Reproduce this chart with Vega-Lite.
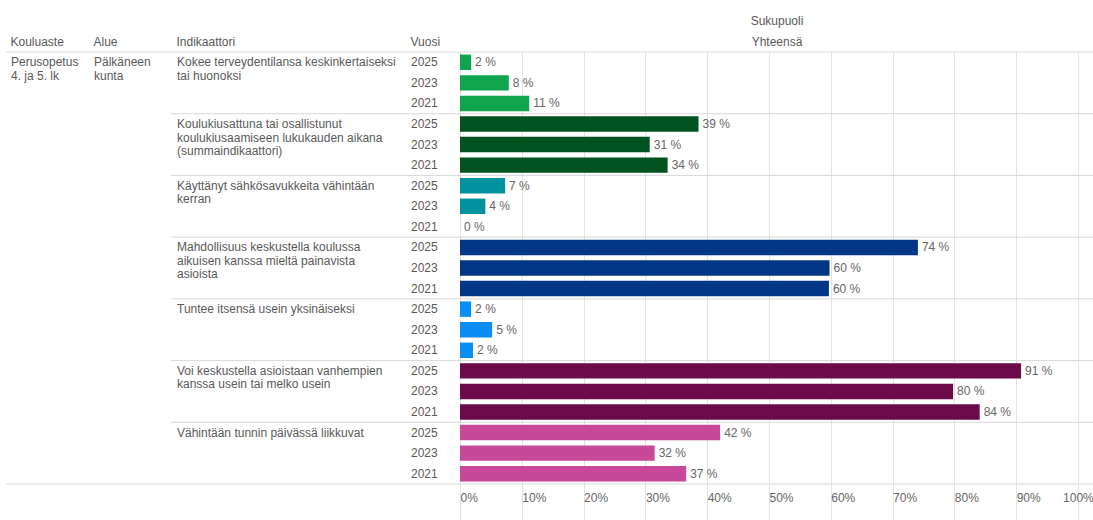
{
  "$schema": "https://vega.github.io/schema/vega-lite/v6.json",
  "background": "white",
  "padding": {"left": 5, "top": 14, "right": 0, "bottom": 0},
  "autosize": {"type": "pad"},
  "spacing": 0,
  "bounds": "flush",
  "config": {
    "view": {"stroke": null},
    "font": "Liberation Sans",
    "text": {"font": "Liberation Sans", "fontSize": 12, "color": "#595959"},
    "title": {"font": "Liberation Sans", "fontSize": 12, "fontWeight": "normal", "color": "#595959", "anchor": "start", "baseline": "alphabetic", "offset": 3,
              "subtitleFont": "Liberation Sans", "subtitleFontSize": 12, "subtitleColor": "#595959"}
  },
  "resolve": {"scale": {"y": "shared"}},
  "datasets": {
    "rows": [
      {"r": "01", "g": "g1", "year": "2025", "v": 1.8, "t": ["Kokee terveydentilansa keskinkertaiseksi", "tai huonoksi"], "k": ["Perusopetus", "4. ja 5. lk"], "a": ["Pälkäneen", "kunta"]},
      {"r": "02", "g": "g1", "year": "2023", "v": 7.9},
      {"r": "03", "g": "g1", "year": "2021", "v": 11.2},
      {"r": "04", "g": "g2", "year": "2025", "v": 38.6, "t": ["Koulukiusattuna tai osallistunut", "koulukiusaamiseen lukukauden aikana", "(summaindikaattori)"]},
      {"r": "05", "g": "g2", "year": "2023", "v": 30.7},
      {"r": "06", "g": "g2", "year": "2021", "v": 33.6},
      {"r": "07", "g": "g3", "year": "2025", "v": 7.3, "t": ["Käyttänyt sähkösavukkeita vähintään", "kerran"]},
      {"r": "08", "g": "g3", "year": "2023", "v": 4.1},
      {"r": "09", "g": "g3", "year": "2021", "v": 0},
      {"r": "10", "g": "g4", "year": "2025", "v": 74.1, "t": ["Mahdollisuus keskustella koulussa", "aikuisen kanssa mieltä painavista", "asioista"]},
      {"r": "11", "g": "g4", "year": "2023", "v": 59.8},
      {"r": "12", "g": "g4", "year": "2021", "v": 59.7},
      {"r": "13", "g": "g5", "year": "2025", "v": 1.8, "t": ["Tuntee itsensä usein yksinäiseksi"]},
      {"r": "14", "g": "g5", "year": "2023", "v": 5.2},
      {"r": "15", "g": "g5", "year": "2021", "v": 2.1},
      {"r": "16", "g": "g6", "year": "2025", "v": 90.8, "t": ["Voi keskustella asioistaan vanhempien", "kanssa usein tai melko usein"]},
      {"r": "17", "g": "g6", "year": "2023", "v": 79.8},
      {"r": "18", "g": "g6", "year": "2021", "v": 84.1},
      {"r": "19", "g": "g7", "year": "2025", "v": 42.1, "t": ["Vähintään tunnin päivässä liikkuvat"]},
      {"r": "20", "g": "g7", "year": "2023", "v": 31.5},
      {"r": "21", "g": "g7", "year": "2021", "v": 36.6}
    ]
  },
  "hconcat": [
    {
      "width": 83, "height": 432,
      "title": {"text": "Kouluaste", "dx": 5},
      "data": {"name": "rows"},
      "layer": [
        {
          "transform": [{"filter": "isValid(datum.k)"}],
          "mark": {"type": "text", "align": "left", "baseline": "alphabetic", "dx": 5, "dy": 4, "lineHeight": 13.5},
          "encoding": {
            "x": {"datum": 0, "type": "quantitative", "scale": {"domain": [0, 1]}, "axis": null},
            "y": {"field": "r", "type": "nominal", "scale": {"paddingInner": 0, "paddingOuter": 0}, "axis": null},
            "text": {"field": "k"}
          }
        },
        {
          "transform": [{"filter": "datum.r == '01'"}],
          "mark": {"type": "rule", "color": "#d9d9d9"},
          "encoding": {"y": {"field": "r", "type": "nominal", "bandPosition": 0, "axis": null}}
        },
        {
          "transform": [{"filter": "datum.r == '21'"}],
          "mark": {"type": "rule", "color": "#d9d9d9"},
          "encoding": {"y": {"field": "r", "type": "nominal", "bandPosition": 1, "axis": null}}
        }
      ]
    },
    {
      "width": 82, "height": 432,
      "title": {"text": "Alue", "dx": 5},
      "data": {"name": "rows"},
      "layer": [
        {
          "transform": [{"filter": "isValid(datum.a)"}],
          "mark": {"type": "text", "align": "left", "baseline": "alphabetic", "dx": 5, "dy": 4, "lineHeight": 13.5},
          "encoding": {
            "x": {"datum": 0, "type": "quantitative", "scale": {"domain": [0, 1]}, "axis": null},
            "y": {"field": "r", "type": "nominal", "scale": {"paddingInner": 0, "paddingOuter": 0}, "axis": null},
            "text": {"field": "a"}
          }
        },
        {
          "transform": [{"filter": "datum.r == '01'"}],
          "mark": {"type": "rule", "color": "#d9d9d9"},
          "encoding": {"y": {"field": "r", "type": "nominal", "bandPosition": 0, "axis": null}}
        },
        {
          "transform": [{"filter": "datum.r == '21'"}],
          "mark": {"type": "rule", "color": "#d9d9d9"},
          "encoding": {"y": {"field": "r", "type": "nominal", "bandPosition": 1, "axis": null}}
        }
      ]
    },
    {
      "width": 235, "height": 432,
      "title": {"text": "Indikaattori", "dx": 6},
      "data": {"name": "rows"},
      "layer": [
        {
          "transform": [{"filter": "isValid(datum.t)"}],
          "mark": {"type": "text", "align": "left", "baseline": "alphabetic", "dx": 6, "dy": 4, "lineHeight": 13.5},
          "encoding": {
            "x": {"datum": 0, "type": "quantitative", "scale": {"domain": [0, 1]}, "axis": null},
            "y": {"field": "r", "type": "nominal", "scale": {"paddingInner": 0, "paddingOuter": 0}, "axis": null},
            "text": {"field": "t"}
          }
        },
        {
          "transform": [{"filter": "datum.year == '2025'"}],
          "mark": {"type": "rule", "color": "#d9d9d9"},
          "encoding": {"y": {"field": "r", "type": "nominal", "bandPosition": 0, "axis": null}}
        },
        {
          "transform": [{"filter": "datum.r == '21'"}],
          "mark": {"type": "rule", "color": "#d9d9d9"},
          "encoding": {"y": {"field": "r", "type": "nominal", "bandPosition": 1, "axis": null}}
        }
      ]
    },
    {
      "width": 54, "height": 432,
      "title": {"text": "Vuosi", "dx": 5},
      "data": {"name": "rows"},
      "layer": [
        {
          "mark": {"type": "text", "align": "left", "baseline": "middle", "dx": 5},
          "encoding": {
            "x": {"datum": 0, "type": "quantitative", "scale": {"domain": [0, 1]}, "axis": null},
            "y": {"field": "r", "type": "nominal", "scale": {"paddingInner": 0, "paddingOuter": 0}, "axis": null},
            "text": {"field": "year"}
          }
        },
        {
          "transform": [{"filter": "datum.year == '2025'"}],
          "mark": {"type": "rule", "color": "#d9d9d9"},
          "encoding": {"y": {"field": "r", "type": "nominal", "bandPosition": 0, "axis": null}}
        },
        {
          "transform": [{"filter": "datum.r == '21'"}],
          "mark": {"type": "rule", "color": "#d9d9d9"},
          "encoding": {"y": {"field": "r", "type": "nominal", "bandPosition": 1, "axis": null}}
        }
      ]
    },
    {
      "width": 634, "height": 432,
      "title": {"text": "Sukupuoli", "subtitle": "Yhteensä", "anchor": "middle", "subtitlePadding": 9},
      "data": {"name": "rows"},
      "layer": [
        {
          "transform": [{"filter": "datum.year == '2025'"}],
          "mark": {"type": "rule", "color": "#d9d9d9"},
          "encoding": {"y": {"field": "r", "type": "nominal", "bandPosition": 0, "axis": null}}
        },
        {
          "transform": [{"filter": "datum.r == '21'"}],
          "mark": {"type": "rule", "color": "#d9d9d9"},
          "encoding": {"y": {"field": "r", "type": "nominal", "bandPosition": 1, "axis": null}}
        },
        {
          "mark": {"type": "bar", "height": {"band": 0.75}},
          "encoding": {
            "x": {
              "field": "v", "type": "quantitative",
              "scale": {"domain": [0, 102.6], "nice": false, "zero": true},
              "axis": {
                "orient": "bottom", "values": [0, 10, 20, 30, 40, 50, 60, 70, 80, 90, 100],
                "labelExpr": "datum.value + '%'", "title": null, "domain": false,
                "grid": true, "gridColor": "#e3e3e3", "ticks": true, "tickColor": "#e3e3e3", "tickSize": 36,
                "labelPadding": -28, "labelColor": "#666666", "labelFontSize": 12, "labelFont": "Liberation Sans",
                "labelBaseline": "top",
                "labelAlign": {"condition": {"test": "datum.value == 100", "value": "center"}, "value": "left"},
                "labelFlush": false, "labelOverlap": false, "labelBound": false
              }
            },
            "y": {"field": "r", "type": "nominal", "scale": {"paddingInner": 0, "paddingOuter": 0}, "axis": null},
            "color": {
              "field": "g", "type": "nominal", "legend": null,
              "scale": {"domain": ["g1", "g2", "g3", "g4", "g5", "g6", "g7"],
                        "range": ["#0fa54f", "#00531f", "#00929f", "#013585", "#0a8ef5", "#6c0b4a", "#c8489a"]}
            }
          }
        },
        {
          "transform": [{"calculate": "format(datum.v, '.0f') + ' %'", "as": "lbl"}],
          "mark": {"type": "text", "align": "left", "baseline": "middle", "dx": 4, "color": "#666666"},
          "encoding": {
            "x": {"field": "v", "type": "quantitative"},
            "y": {"field": "r", "type": "nominal", "axis": null},
            "text": {"field": "lbl"}
          }
        }
      ]
    }
  ]
}
